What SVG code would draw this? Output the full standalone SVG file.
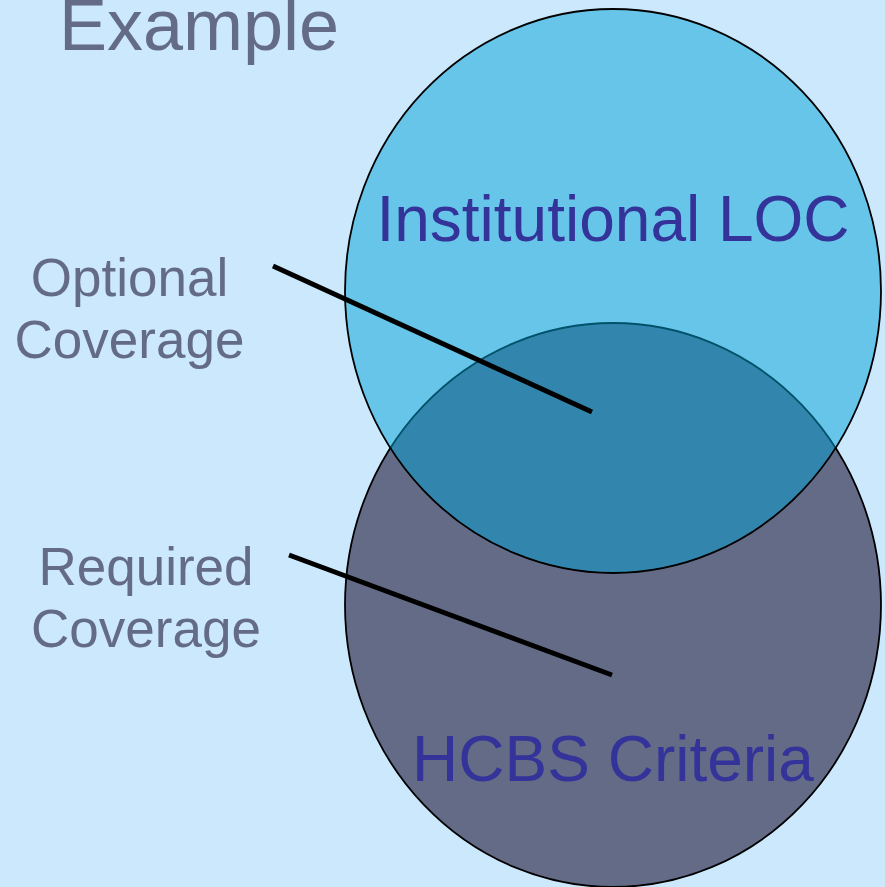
<svg xmlns="http://www.w3.org/2000/svg" width="885" height="887" viewBox="0 0 885 887">
  <style>
    .lbl { font-family: "Liberation Sans", Arial, sans-serif; fill: #646b87; text-anchor: middle; }
    .in { font-family: "Liberation Sans", Arial, sans-serif; fill: #333399; text-anchor: middle; font-size: 64px; }
    .conn { stroke: #000; stroke-width: 5; stroke-linecap: butt; }
  </style>
  <rect width="885" height="887" fill="#cce8fc"/>
  <text class="lbl" x="199" y="50" font-size="72">Example</text>
  <g id="hcbs">
    <ellipse cx="613" cy="605" rx="268" ry="282" fill="#646b87" stroke="#000" stroke-width="1.8"/>
    <text class="in" x="613" y="781">HCBS Criteria</text>
  </g>
  <g id="institutional">
    <ellipse cx="613" cy="291" rx="268" ry="282" fill="#00a2d4" fill-opacity="0.5" stroke="#000" stroke-width="1.8"/>
    <text class="in" x="613" y="241">Institutional LOC</text>
  </g>
  <g id="optional">
    <text class="lbl" x="129.5" y="296" font-size="53">Optional</text>
    <text class="lbl" x="129.5" y="358" font-size="53">Coverage</text>
  </g>
  <g id="required">
    <text class="lbl" x="146" y="585" font-size="53">Required</text>
    <text class="lbl" x="146" y="647" font-size="53">Coverage</text>
  </g>
  <g id="connectors">
    <line class="conn" x1="273" y1="266" x2="592" y2="412"/>
    <line class="conn" x1="289" y1="555" x2="612" y2="675"/>
  </g>
</svg>
